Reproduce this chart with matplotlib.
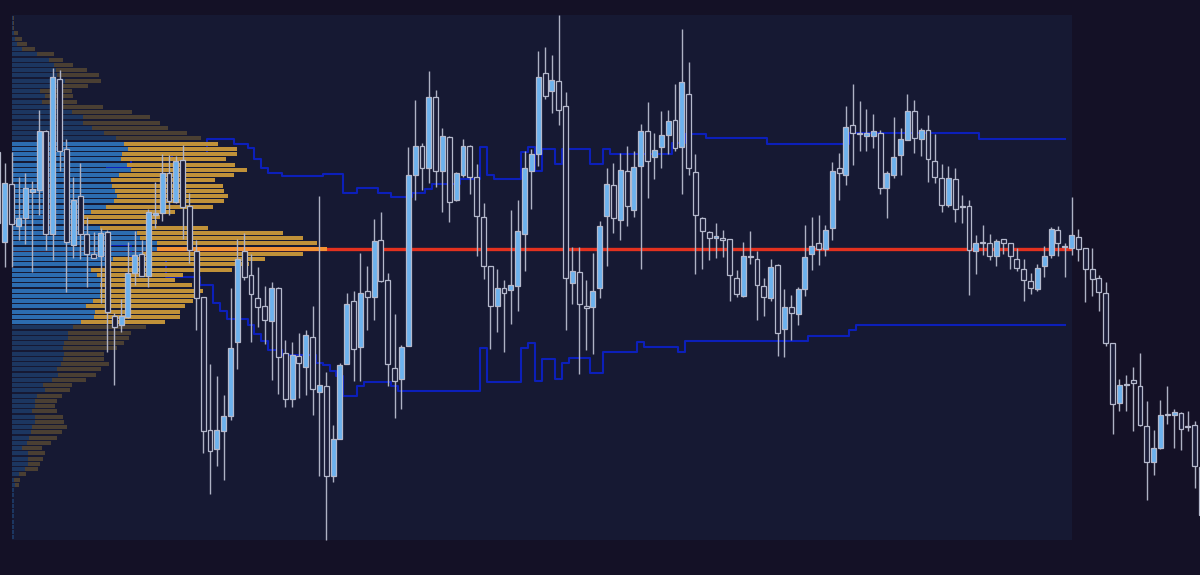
import matplotlib.pyplot as plt
import numpy as np
from matplotlib.patches import Rectangle

# candles (price units, arbitrary)
opens = [423, 333, 391, 349, 357, 383, 385, 444, 341, 496, 426, 330, 379, 341, 321, 319, 343, 259, 250, 258,
         302, 321, 299, 360, 362, 402, 373, 415, 369, 324, 278, 145, 126, 144, 159, 233, 324, 300, 277, 269,
         254, 287, 222, 176, 219, 208, 238, 183, 189, 99, 136, 211, 274, 228, 284, 278, 335, 295, 207, 196,
         229, 400, 429, 407, 478, 404, 438, 375, 400, 429, 398, 358, 309, 269, 287, 285, 289, 341, 404, 421,
         502, 484, 494, 469, 292, 303, 269, 268, 287, 359, 390, 355, 404, 365, 409, 444, 418, 428, 440, 455,
         428, 481, 403, 357, 343, 337, 337, 336, 297, 279, 318, 316, 289, 277, 310, 246, 268, 261, 286, 321,
         332, 326, 347, 407, 400, 450, 441, 439, 439, 442, 387, 400, 420, 435, 464, 436, 445, 414, 397, 370,
         396, 368, 369, 324, 332, 332, 319, 336, 332, 316, 306, 294, 286, 309, 320, 345, 328, 327, 338, 327,
         306, 297, 282, 232, 172, 190, 195, 189, 149, 113, 127, 160, 160, 162, 148, 150, 60]
highs = [444, 412, 423, 398, 402, 394, 465, 445, 507, 505, 436, 398, 412, 358, 343, 347, 345, 262, 276, 333,
         344, 335, 366, 393, 421, 420, 419, 430, 382, 335, 278, 211, 199, 180, 287, 336, 342, 321, 308, 289,
         293, 288, 235, 233, 242, 245, 269, 379, 203, 150, 212, 282, 284, 322, 309, 356, 363, 302, 261, 230,
         428, 475, 432, 504, 485, 447, 439, 403, 436, 430, 411, 372, 309, 306, 295, 365, 375, 424, 426, 524,
         528, 520, 560, 483, 328, 328, 295, 322, 354, 407, 412, 422, 429, 424, 451, 473, 442, 464, 465, 491,
         546, 513, 421, 358, 344, 352, 345, 336, 305, 333, 344, 324, 297, 316, 311, 286, 280, 288, 350, 358,
         360, 350, 413, 422, 469, 491, 474, 466, 461, 445, 404, 458, 447, 481, 475, 447, 460, 441, 411, 409,
         407, 380, 375, 340, 350, 341, 336, 336, 332, 327, 316, 302, 311, 329, 348, 349, 332, 378, 346, 327,
         327, 300, 293, 232, 196, 200, 208, 222, 174, 145, 175, 189, 166, 163, 164, 154, 112]
lows = [335, 308, 308, 335, 331, 303, 360, 325, 315, 404, 283, 317, 316, 288, 317, 272, 223, 190, 243, 257,
        290, 299, 288, 347, 354, 360, 372, 336, 312, 245, 122, 81, 109, 95, 155, 206, 295, 233, 248, 231,
        195, 181, 168, 168, 177, 180, 160, 99, 35, 93, 136, 211, 194, 194, 245, 255, 293, 189, 157, 166,
        229, 375, 385, 392, 388, 363, 353, 374, 398, 381, 319, 296, 226, 243, 223, 251, 264, 304, 366, 409,
        476, 462, 450, 245, 271, 201, 225, 221, 277, 309, 342, 335, 349, 358, 306, 377, 396, 407, 421, 424,
        381, 400, 301, 306, 315, 317, 318, 274, 278, 278, 311, 255, 259, 274, 219, 218, 235, 250, 279, 305,
        310, 319, 335, 375, 390, 410, 424, 424, 427, 381, 357, 397, 400, 435, 422, 419, 393, 392, 363, 368,
        353, 352, 280, 301, 320, 315, 309, 321, 306, 304, 274, 281, 284, 298, 317, 319, 298, 320, 314, 273,
        279, 264, 229, 141, 164, 164, 144, 149, 75, 100, 126, 151, 127, 125, 144, 87, 45]
closes = [352, 392, 351, 357, 387, 386, 444, 341, 498, 424, 333, 375, 341, 321, 317, 342, 263, 248, 259, 302,
          320, 299, 363, 362, 402, 374, 414, 368, 325, 277, 144, 124, 145, 159, 227, 316, 298, 281, 268, 255,
          287, 218, 176, 220, 212, 240, 186, 190, 99, 136, 210, 271, 226, 282, 278, 334, 294, 211, 194, 228,
          400, 429, 407, 478, 404, 439, 373, 402, 429, 398, 359, 309, 269, 287, 282, 290, 344, 407, 421, 498,
          479, 495, 465, 297, 304, 271, 267, 284, 349, 391, 357, 405, 369, 408, 444, 414, 425, 440, 454, 427,
          493, 407, 360, 344, 337, 339, 335, 300, 281, 319, 319, 290, 278, 308, 242, 268, 262, 286, 318, 329,
          326, 345, 404, 402, 448, 442, 442, 442, 444, 387, 402, 418, 436, 464, 437, 445, 416, 398, 370, 397,
          366, 369, 325, 332, 333, 319, 334, 332, 319, 307, 295, 287, 307, 319, 346, 332, 329, 340, 326, 306,
          296, 283, 232, 171, 190, 191, 192, 150, 113, 127, 160, 161, 163, 146, 149, 109, 108]

# developing value area high / low, one value per candle from line_start on
line_start = 16
vah = ([408] * 4 + [415] * 6 + [420] * 4 + [422] + [436] * 4 + [431] * 2 + [427, 416, 407] + [402] * 2 +
       [399] * 6 + [401] * 3 + [382] * 2 + [387] * 3 + [382] * 2 + [378] * 3 + [382] * 2 + [386] +
       [391] * 4 + [396] * 3 + [428, 400] + [396] * 4 + [423, 428, 404] + [426] * 2 + [411] + [426] * 4 +
       [411] * 2 + [426] + [421] * 9 + [432] * 2 + [441] * 3 + [437] * 9 + [431] * 12 + [442] * 19 + [436] * 13)
val = ([330] * 4 + [315] * 5 + [298] * 5 + [290] * 2 + [272, 264] + [256] * 3 + [250, 241, 234] + [225] * 2 +
       [220] * 5 + [212, 210, 204, 199] + [179] * 2 + [189] + [193] * 4 + [189] + [184] * 12 + [227] +
       [193] * 5 + [227, 232, 194] + [216] * 2 + [196, 212] + [217] * 3 + [202] * 2 + [223] * 5 + [233] +
       [228] * 5 + [223] + [234] * 18 + [239] * 6 + [245] + [250] * 31)

# volume profile rows, listed from the top of the price range down
buy_vol = [1, 1, 1, 2, 3, 5, 10, 25, 37, 42, 44, 45, 53, 50, 28, 33, 30, 38, 60, 71,
           71, 80, 92, 104, 112, 116, 110, 109, 115, 119, 107, 99, 100, 103, 105, 102, 94, 79, 71, 68,
           88, 125, 128, 145, 145, 130, 101, 95, 79, 85, 90, 88, 88, 88, 81, 74, 83, 82, 69, 61,
           56, 56, 52, 51, 52, 51, 49, 45, 46, 40, 31, 33, 25, 23, 23, 20, 23, 23, 20, 19,
           17, 15, 10, 16, 16, 16, 13, 7, 2, 3, 2, 2, 2, 2, 2, 2, 2, 2, 2, 2]
sell_vol = [0.5, 1, 1, 4, 7, 10, 13, 17, 14, 19, 31, 42, 36, 26, 32, 28, 35, 53, 60, 67,
            77, 76, 83, 85, 94, 109, 115, 105, 108, 116, 115, 104, 111, 109, 111, 110, 107, 84, 77, 77,
            108, 146, 163, 160, 170, 161, 152, 142, 141, 86, 73, 92, 103, 94, 100, 99, 85, 86, 84, 73,
            63, 61, 60, 54, 40, 41, 48, 44, 38, 34, 29, 25, 25, 22, 20, 25, 28, 29, 35, 31,
            28, 24, 20, 17, 15, 12, 13, 7, 6, 4, 0, 0, 0, 0, 0, 0, 0, 0, 0, 0]

profile_first, profile_last = 2, 157   # candles covered by the profile

bg = '#141126'
panel = '#161933'
va_blue, out_blue = '#2c6cb0', '#1c3660'
va_gold, out_gold = '#c09139', '#4a3f33'
poc_orange, poc_red = '#f39234', '#e3311f'
level_blue = '#0c1fba'

o = np.array(opens, float)
h = np.array(highs, float)
l = np.array(lows, float)
c = np.array(closes, float)
x = np.arange(len(o))

fig = plt.figure(figsize=(12, 5.75), dpi=100, facecolor=bg)
ax_lines = fig.add_axes([0, 0, 1, 1])
ax_vp = fig.add_axes([12 / 1200, 0, 1188 / 1200, 1])
ax = fig.add_axes([0, 0, 1, 1])
for a in (ax_lines, ax_vp, ax):
    a.set_ylim(0, 575)
    a.axis('off')
ax_lines.set_facecolor(bg)
ax_vp.patch.set_alpha(0)
ax.patch.set_alpha(0)
ax_lines.set_xlim(0.29, 175.78)
ax.set_xlim(0.29, 175.78)
ax_vp.set_xlim(0, 1188)

# profile range
p_lo = l[profile_first:profile_last + 1].min()
p_hi = h[profile_first:profile_last + 1].max()
ax_lines.add_patch(Rectangle((profile_first, p_lo), profile_last - profile_first, p_hi - p_lo,
                             facecolor=panel, edgecolor='none', zorder=0))

# value area lines
xs = np.arange(line_start, line_start + len(vah))
ax_lines.plot(xs, vah, drawstyle='steps-mid', color=level_blue, lw=1.5, zorder=2)
ax_lines.plot(xs, val, drawstyle='steps-mid', color=level_blue, lw=1.5, zorder=2)

# volume profile
buy = np.array(buy_vol, float)
sell = np.array(sell_vol, float)
n = len(buy)
row_h = (p_hi - p_lo) / n
centers = p_hi - row_h * (np.arange(n) + 0.5)
in_va = (centers <= vah[-1]) & (centers >= val[-1])
poc = int(np.argmax(buy + sell))
bcol = [va_blue if v else out_blue for v in in_va]
scol = [va_gold if v else out_gold for v in in_va]
scol[poc] = poc_orange
ax_vp.barh(centers, buy, height=row_h * 0.8, left=0, color=bcol, linewidth=0)
ax_vp.barh(centers, sell, height=row_h * 0.8, left=buy, color=scol, linewidth=0)

ax_lines.hlines(centers[poc], profile_first, profile_last, color=poc_red, lw=2.4, zorder=3)

# candles
bull = c >= o
body = np.maximum(np.abs(c - o), 1.0)
ax.vlines(x, l, h, color='#aeb2c4', lw=1.0, zorder=2)
ax.bar(x[bull], body[bull], bottom=o[bull], width=0.72, color='#6cb2ee',
       edgecolor='#b5b9cc', linewidth=0.9, zorder=3)
ax.bar(x[~bull], body[~bull], bottom=c[~bull], width=0.72, color='#1a1c38',
       edgecolor='#b5b9cc', linewidth=0.9, zorder=3)

plt.savefig('out.png', dpi=100, facecolor=bg)
